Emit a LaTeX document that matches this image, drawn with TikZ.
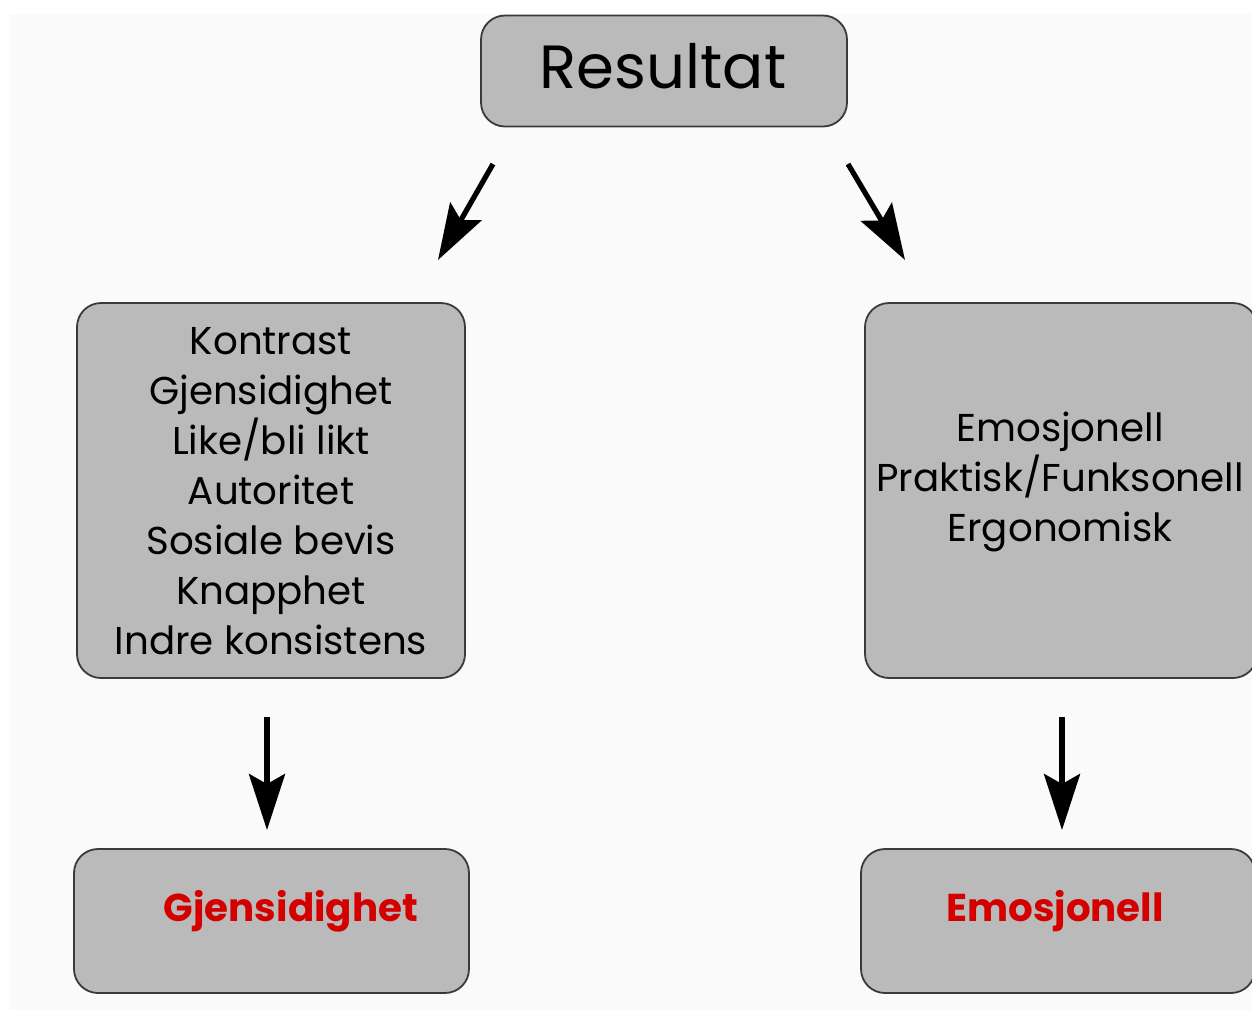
\documentclass[tikz,border=0pt]{standalone}
\usepackage{xcolor}
\usepackage{fontspec}
\setmainfont{Poppins}
\usepackage{tikz}
\usetikzlibrary{arrows.meta}
\definecolor{boxgray}{HTML}{BABABA}
\definecolor{boxline}{HTML}{3A3A3A}
\definecolor{bgpaper}{HTML}{FAFAFA}
\definecolor{resred}{HTML}{D40000}
\tikzset{ gray_box/.style = {rectangle, rounded corners=12pt, draw=boxline, line width=0.9pt, fill=boxgray, align=center, inner sep=0pt} }
\tikzset{ big_arrow/.style = {line width=2.6pt, -{Stealth[length=28pt, width=18pt, inset=5pt]}} }
\tikzset{ item_text/.style = {align=center, font=\fontsize{19.4}{25}\selectfont} }
\tikzset{ red_text/.style = {text=resred, font=\fontsize{19.4}{25}\selectfont\bfseries} }

\begin{document}
\begin{tikzpicture}[x=0.5pt, y=-0.5pt]
            \useasboundingbox (0,0) rectangle (1252,1019);
            \fill[white] (0,0) rectangle (1252,1019);
            \fill[bgpaper] (10,14) rectangle (1252,1010);
            \node [gray_box, minimum width=183pt, minimum height=55.5pt] (0) at (664,71) {};
            \node [font=\fontsize{30.5}{36}\selectfont] (0t) at (663,66) {Resultat};
            \node [gray_box, minimum width=194pt, minimum height=187.5pt] (1) at (271,490.5) {};
            \node [item_text] (1t) at (271,491) {Kontrast\\Gjensidighet\\Like/bli likt\\Autoritet\\Sosiale bevis\\Knapphet\\Indre konsistens};
            \node [gray_box, minimum width=196pt, minimum height=187.5pt] (2) at (1061,490.5) {};
            \node [item_text] (2t) at (1060,482) {Emosjonell\\Praktisk/Funksonell\\Ergonomisk};
            \node [gray_box, minimum width=197.5pt, minimum height=72pt] (3) at (271.5,921) {};
            \node [red_text] (3t) at (291,911) {Gjensidighet};
            \node [gray_box, minimum width=197pt, minimum height=72pt] (4) at (1058,921) {};
            \node [red_text] (4t) at (1055,911) {Emosjonell};
            \coordinate (a0) at (493,164);
            \coordinate (a1) at (438,260);
            \coordinate (b0) at (848,164);
            \coordinate (b1) at (905,260);
            \coordinate (c0) at (267,717);
            \coordinate (c1) at (267,830);
            \coordinate (d0) at (1062,717);
            \coordinate (d1) at (1062,830);
            \draw[big_arrow] (a0) to (a1);
            \draw[big_arrow] (b0) to (b1);
            \draw[big_arrow] (c0) to (c1);
            \draw[big_arrow] (d0) to (d1);
        \end{tikzpicture}
\end{document}
